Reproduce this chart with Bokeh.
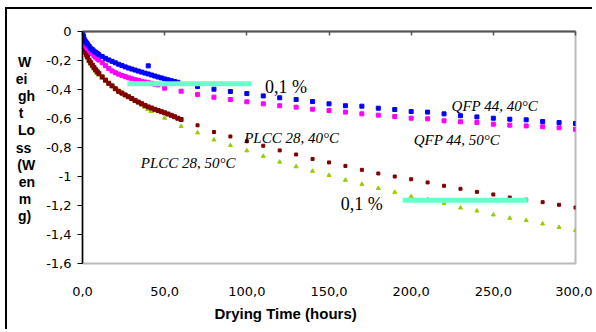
from bokeh.plotting import figure
from bokeh.models import LinearAxis, FixedTicker, Range1d, Label, Title
from bokeh.embed import file_html
from bokeh.resources import INLINE

# ---------------- data ----------------
t_dense = [0, 0.25, 0.5, 0.75, 1, 1.5, 2, 2.5, 3, 4, 5, 6, 7, 8, 9, 10, 12, 14, 16, 18,
           20, 22, 24, 26, 28, 30, 32, 34, 36, 38, 40, 42, 44, 46, 48, 50, 52, 54, 56, 58, 60]
h_50_300 = [50, 60, 70, 80, 90, 100, 110, 120, 130, 140, 150, 160, 170, 180, 190, 200,
            210, 220, 230, 240, 250, 260, 270, 280, 290, 300]
h_70_300 = [70, 80, 90, 100, 110, 120, 130, 140, 150, 160, 170, 180, 190, 200,
            210, 220, 230, 240, 250, 260, 270, 280, 290, 300]

qfp40_dense = [0, -0.02, -0.035, -0.045, -0.055, -0.064, -0.072, -0.08, -0.087, -0.10,
               -0.115, -0.125, -0.135, -0.143, -0.152, -0.16, -0.173, -0.185, -0.196, -0.206,
               -0.216, -0.226, -0.235, -0.244, -0.252, -0.259, -0.266, -0.273, -0.28, -0.287,
               -0.293, -0.3, -0.307, -0.314, -0.32, -0.327, -0.333, -0.339, -0.345, -0.35]
qfp40_extra_h = [40]
qfp40_extra = [-0.237]
qfp40_sparse = [-0.379, -0.398, -0.414, -0.428, -0.444, -0.457, -0.469, -0.483, -0.499, -0.512,
                -0.515, -0.529, -0.538, -0.552, -0.556, -0.568, -0.581, -0.589, -0.598, -0.605,
                -0.609, -0.621, -0.628, -0.634]

qfp50_dense = [0, -0.03, -0.05, -0.065, -0.078, -0.09, -0.1, -0.108, -0.116, -0.13,
               -0.143, -0.155, -0.167, -0.178, -0.188, -0.197, -0.216, -0.236, -0.256, -0.272,
               -0.284, -0.294, -0.303, -0.311, -0.319, -0.326, -0.332, -0.337, -0.343, -0.348,
               -0.353, -0.358, -0.363, -0.368]
qfp50_sparse = [-0.391, -0.412, -0.434, -0.453, -0.469, -0.485, -0.499, -0.512, -0.522, -0.536,
                -0.545, -0.556, -0.568, -0.577, -0.586, -0.598, -0.602, -0.616, -0.623, -0.628,
                -0.639, -0.646, -0.651, -0.657, -0.664, -0.674]

plcc40_dense = [0, -0.03, -0.055, -0.08, -0.10, -0.125, -0.145, -0.16, -0.175, -0.198,
                -0.215, -0.232, -0.248, -0.264, -0.278, -0.29, -0.313, -0.335, -0.357, -0.375,
                -0.395, -0.413, -0.425, -0.438, -0.45, -0.462, -0.475, -0.487, -0.498, -0.51,
                -0.52, -0.528, -0.537, -0.545, -0.553, -0.561, -0.569, -0.578, -0.588, -0.598,
                -0.607]
plcc40_sparse = [-0.647, -0.693, -0.724, -0.757, -0.788, -0.82, -0.848, -0.879, -0.903, -0.927,
                 -0.954, -0.979, -1.0, -1.019, -1.041, -1.064, -1.085, -1.106, -1.124, -1.145,
                 -1.16, -1.177, -1.195, -1.214]

plcc50_dense = [0, -0.03, -0.055, -0.08, -0.10, -0.127, -0.148, -0.165, -0.18, -0.203,
                -0.222, -0.24, -0.256, -0.271, -0.286, -0.298, -0.32, -0.342, -0.36, -0.377,
                -0.395, -0.41, -0.424, -0.438, -0.452, -0.465, -0.478, -0.49, -0.505, -0.52,
                -0.535, -0.548]
plcc50_sparse = [-0.597, -0.654, -0.698, -0.747, -0.786, -0.822, -0.86, -0.90, -0.932, -0.963,
                 -0.992, -1.025, -1.053, -1.082, -1.108, -1.138, -1.158, -1.184, -1.216, -1.237,
                 -1.264, -1.287, -1.303, -1.326, -1.35, -1.372]

threshold_h0 = [27.3, 194.8]
threshold_h1 = [103.0, 271.0]
threshold_loss = [-0.361, -1.164]

x_ticks = [0, 50, 100, 150, 200, 250, 300]
x_tick_labels = ["0,0", "50,0", "100,0", "150,0", "200,0", "250,0", "300,0"]
y_ticks = [0, -0.2, -0.4, -0.6, -0.8, -1, -1.2, -1.4, -1.6]
y_tick_labels = ["0", "-0,2", "-0,4", "-0,6", "-0,8", "-1", "-1,2", "-1,4", "-1,6"]

pct_texts = ["0,1 %", "0,1 %"]
pct_h = [111.1, 157.2]
pct_loss = [-0.385, -1.189]

series_texts = ["QFP 44, 40°C", "QFP 44, 50°C", "PLCC 28, 40°C", "PLCC 28, 50°C"]
series_text_h = [224.6, 201.5, 98.4, 35.5]
series_text_loss = [-0.512, -0.748, -0.732, -0.907]

# wrapped y-axis title (lines padded with no-break spaces so they line up on the left)
NB = "\u00a0"
y_title_lines = ["W" + NB, "ei" + NB * 2, "gh", "t" + NB * 3, "Lo", "ss" + NB, "(W", "en",
                 "m" + NB, "g)" + NB, NB]
x_title = "Drying Time (hours)"

# ---------------- figure ----------------
p = figure(frame_width=493, frame_height=232, x_range=Range1d(0, 300), y_range=Range1d(-1.6, 0),
           output_backend="svg", toolbar_location=None,
           min_border_left=75, min_border_right=17, min_border_top=22, min_border_bottom=66)
p.styles = {"border-left": "2px solid black", "border-top": "2px solid black",
            "margin-left": "5px", "margin-top": "7px"}
p.background_fill_color = "white"
p.border_fill_color = "white"
p.outline_line_color = "#BBBBBB"
p.outline_line_width = 2
p.xgrid.visible = False
p.ygrid.visible = False

tick_font = "DejaVu Sans"
p.xaxis.ticker = FixedTicker(ticks=x_ticks)
p.xaxis.major_label_overrides = dict(zip(x_ticks, x_tick_labels))
p.xaxis.axis_line_color = None
p.xaxis.major_tick_line_color = None
p.xaxis.minor_tick_line_color = None
p.xaxis.major_label_standoff = 17
p.xaxis.major_label_text_font = tick_font
p.xaxis.major_label_text_font_size = "13px"
p.xaxis.major_label_text_color = "black"

p.yaxis.ticker = FixedTicker(ticks=y_ticks)
p.yaxis.major_label_overrides = dict(zip(y_ticks, y_tick_labels))
p.yaxis.axis_line_color = "black"
p.yaxis.axis_line_width = 1.5
p.yaxis.major_tick_line_color = "black"
p.yaxis.major_tick_out = 5
p.yaxis.major_tick_in = 0
p.yaxis.minor_tick_line_color = None
p.yaxis.major_label_standoff = 6
p.yaxis.major_label_text_font = tick_font
p.yaxis.major_label_text_font_size = "13px"
p.yaxis.major_label_text_color = "black"
p.yaxis.axis_label = "\n".join(y_title_lines)
p.yaxis.axis_label_orientation = "horizontal"
p.yaxis.axis_label_text_align = "left"
p.yaxis.axis_label_standoff = 8
p.yaxis.axis_label_text_font = "Liberation Sans"
p.yaxis.axis_label_text_font_size = "14px"
p.yaxis.axis_label_text_font_style = "bold"
p.yaxis.axis_label_text_line_height = 1.07
p.yaxis.axis_label_text_color = "black"

top = LinearAxis(ticker=FixedTicker(ticks=x_ticks), axis_line_color="#555555", axis_line_width=2,
                 major_tick_in=4, major_tick_out=0, major_tick_line_color="#555555",
                 major_tick_line_width=1.5, minor_tick_line_color=None,
                 major_label_text_color=None, major_label_text_font_size="1px")
p.add_layout(top, "above")

p.add_layout(Title(text=x_title, align="left", offset=132, standoff=8,
                   text_font="Liberation Sans", text_font_size="15px",
                   text_font_style="bold", text_color="black"), "below")

# ---------------- series ----------------
p.scatter(t_dense[:len(plcc50_dense)], plcc50_dense, marker="triangle", size=5, color="#99CC00")
p.scatter(h_50_300, plcc50_sparse, marker="triangle", size=4, color="#99CC00")
p.scatter(t_dense[:len(plcc40_dense)], plcc40_dense, marker="square", size=4, color="#800000")
p.scatter(h_70_300, plcc40_sparse, marker="square", size=3, color="#800000")
p.scatter(t_dense[:len(qfp50_dense)] + h_50_300, qfp50_dense + qfp50_sparse,
          marker="square", size=4, color="#FF00FF")
p.scatter(t_dense[:len(qfp40_dense)] + qfp40_extra_h + h_70_300,
          qfp40_dense + qfp40_extra + qfp40_sparse,
          marker="square", size=4, color="#0000FF")

p.segment(x0=threshold_h0, y0=threshold_loss, x1=threshold_h1, y1=threshold_loss,
          line_width=5, line_color="#66FFCC", line_cap="butt")

for txt, x, y in zip(pct_texts, pct_h, pct_loss):
    p.add_layout(Label(x=x, y=y, text=txt, text_font="Liberation Serif", text_font_size="18px",
                       text_align="left", text_baseline="alphabetic", text_color="black"))
for txt, x, y in zip(series_texts, series_text_h, series_text_loss):
    p.add_layout(Label(x=x, y=y, text=txt, text_font="Liberation Serif", text_font_size="15px",
                       text_font_style="italic", text_align="left", text_baseline="alphabetic",
                       text_color="black"))

open("out.html", "w").write(file_html(p, INLINE))
